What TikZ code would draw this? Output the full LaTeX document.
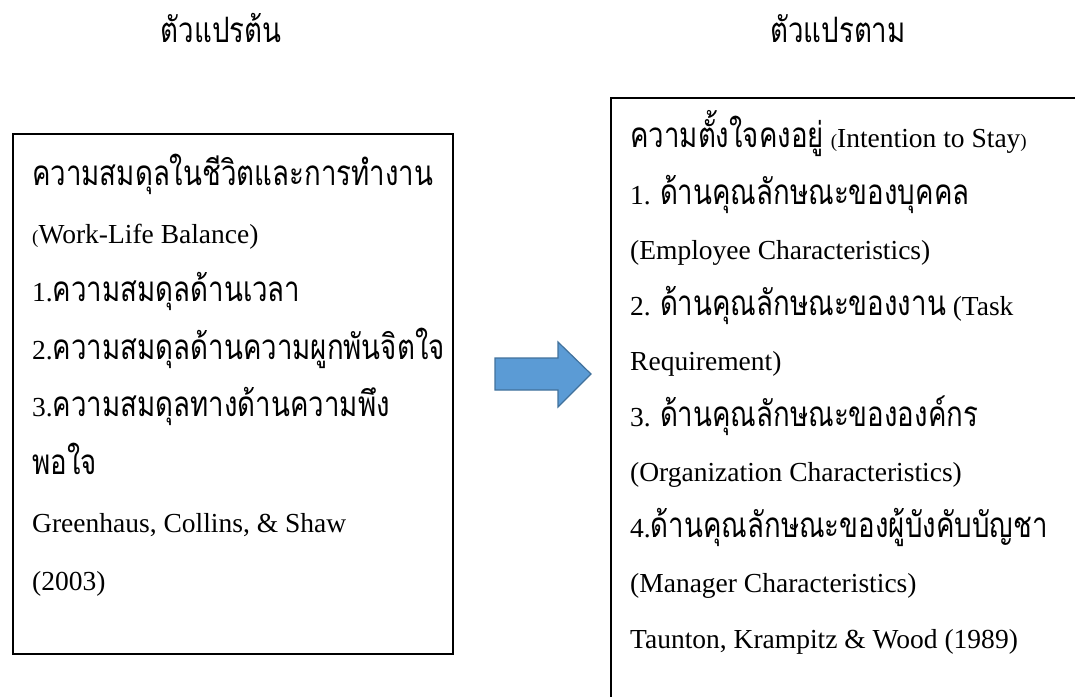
\documentclass[tikz,border=0pt]{standalone}
\usepackage{fontspec}
\setmainfont{Liberation Serif}
\newfontfamily\thai[Script=Thai, FakeStretch=0.79]{Loma}
\definecolor{arrowfill}{HTML}{5B9BD5}
\definecolor{arrowline}{HTML}{41719C}
\newcommand\tx[1]{{\thai\fontsize{35}{40}\selectfont #1}}
\newcommand\smp[1]{{\fontsize{19}{22}\selectfont #1}}
\tikzset{
  box/.style={draw=black, line width=1.8pt, inner sep=0pt, anchor=north west},
  txt/.style={anchor=base west, inner sep=0pt, font=\fontsize{27.5}{30}\selectfont},
  ttl/.style={anchor=base, inner sep=0pt, font=\thai\fontsize{35}{40}\selectfont},
  blockarrow/.style={fill=arrowfill, draw=arrowline, line width=1.2pt, line join=miter},
}
\begin{document}
\begin{tikzpicture}[x=1pt,y=-1pt]
\useasboundingbox (0,0) rectangle (1075,696);
\clip (0,0) rectangle (1075,696);
\node[ttl] (t1) at (221,42) {ตัวแปรต้น};
\node[ttl] (t2) at (838,42) {ตัวแปรตาม};
\node[box, minimum width=440pt, minimum height=520pt] (lbox) at (12,133) {};
\node[box, minimum width=500pt, minimum height=640pt] (rbox) at (610,97) {};
% left text
\node[txt] (l0) at (32,185) {\tx{ความสมดุลในชีวิตและการทำงาน}};
\node[txt] (l1) at (32,243) {\smp{(}Work-Life Balance)};
\node[txt] (l2) at (32,301) {1.\tx{ความสมดุลด้านเวลา}};
\node[txt] (l3) at (32,359) {2.\tx{ความสมดุลด้านความผูกพันจิตใจ}};
\node[txt] (l4) at (32,416) {3.\tx{ความสมดุลทางด้านความพึง}};
\node[txt] (l5) at (32,474) {\tx{พอใจ}};
\node[txt] (l6) at (32,532) {Greenhaus, Collins, \& Shaw};
\node[txt] (l7) at (32,590) {(2003)};
% right text
\node[txt] (r0) at (630,147) {\tx{ความตั้งใจคงอยู่} \smp{(}Intention to Stay\smp{)}};
\node[txt] (r1) at (630,204) {1. \tx{ด้านคุณลักษณะของบุคคล}};
\node[txt] (r2) at (630,259.5) {(Employee Characteristics)};
\node[txt] (r3) at (630,315) {2. \tx{ด้านคุณลักษณะของงาน} (Task};
\node[txt] (r4) at (630,370.5) {Requirement)};
\node[txt] (r5) at (630,426) {3. \tx{ด้านคุณลักษณะขององค์กร}};
\node[txt] (r6) at (630,481.5) {(Organization Characteristics)};
\node[txt] (r7) at (630,537) {4.\tx{ด้านคุณลักษณะของผู้บังคับบัญชา}};
\node[txt] (r8) at (630,592.5) {(Manager Characteristics)};
\node[txt] (r9) at (630,648) {Taunton, Krampitz \& Wood (1989)};
% block arrow
\draw[blockarrow] (495,358) -- (558,358) -- (558,342) -- (591,374) -- (558,407) -- (558,390) -- (495,390) -- cycle;
\end{tikzpicture}
\end{document}
